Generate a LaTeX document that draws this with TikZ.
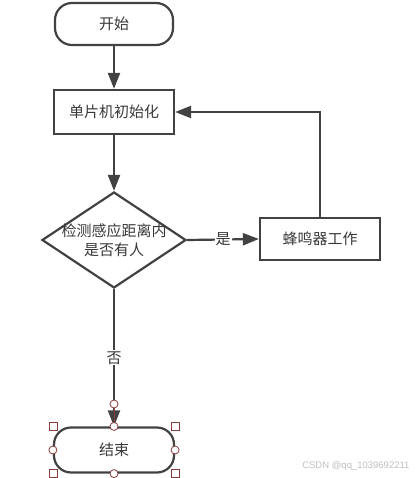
\documentclass[tikz,border=0pt]{standalone}
\usepackage{fontspec}
\usepackage{tikz}
\usetikzlibrary{arrows.meta, positioning, shapes.geometric}
\newfontfamily\cjkfont{Noto Sans CJK SC}
\newfontfamily\markfont{Liberation Sans}
\definecolor{lineGray}{HTML}{424242}
\definecolor{textGray}{HTML}{383838}
\definecolor{handleRed}{HTML}{8A3B3B}

\begin{document}
\begin{tikzpicture}[
  x=1pt, y=-1pt,
  term/.style={
    draw=lineGray, line width=2.2pt, rounded corners=17pt,
    minimum width=118pt, minimum height=42pt,
    font=\cjkfont\fontsize{15}{18}\selectfont, text=textGray
  },
  proc/.style={
    draw=lineGray, line width=2.2pt,
    minimum width=120pt, minimum height=44pt,
    font=\cjkfont\fontsize{15}{18}\selectfont, text=textGray
  },
  decide/.style={
    draw=lineGray, line width=2.2pt, diamond, inner sep=0pt,
    minimum width=144pt, minimum height=96pt
  },
  dtext/.style={font=\cjkfont\fontsize{15}{19}\selectfont, text=textGray, align=center},
  lbl/.style={font=\cjkfont\fontsize{15}{18}\selectfont, text=textGray, fill=white, inner sep=1pt},
  arrow/.style={-{Triangle[length=16pt, width=12pt]}, line width=2.2pt, draw=lineGray},
  handlebox/.style={draw=handleRed, fill=white, line width=0.8pt, minimum size=8pt, inner sep=0pt},
  handledot/.style={draw=handleRed, fill=white, line width=0.8pt, circle, minimum size=8pt, inner sep=0pt},
]
  \useasboundingbox (0,0) rectangle (415,478);

  % Flow nodes
  \node[term] (start) at (114,24) {开始};
  \node[proc] (init) at (114,112) {单片机初始化};
  \node[decide] (chk) at (114,240) {};
  \node[dtext] (chktxt) at (chk.center) {检测感应距离内\\是否有人};
  \node[proc, minimum height=42pt] (buzz) at (320,239) {蜂鸣器工作};
  \node[term, minimum width=120pt, minimum height=45pt] (stop) at (114,450) {结束};

  % Connectors
  \draw[arrow] (start) -- (init);
  \draw[arrow] (init) -- (chk);
  \draw[arrow] (chk.east) -- node[lbl] {是} (buzz.west);
  \draw[arrow] (buzz.north) |- (init.east);
  \draw[arrow] (chk.south) -- node[lbl, pos=0.5] {否} (stop.north);

  % Selection handles on the end node
  \coordinate (grip) at (114,404);
  \draw[handleRed, line width=0.6pt] (grip) -- (stop.north);
  \node[handledot] (gripdot) at (grip) {};
  \foreach \corner in {north west, north east, south west, south east}
    \node[handlebox] at (stop.\corner) {};
  \foreach \side in {north, south, west, east}
    \node[handledot] at (stop.\side) {};

  % Watermark
  \node[font=\markfont\fontsize{9.5}{11}\selectfont, text=black!25, anchor=east] (mark) at (413,466) {CSDN @qq\_1039692211};
\end{tikzpicture}
\end{document}
